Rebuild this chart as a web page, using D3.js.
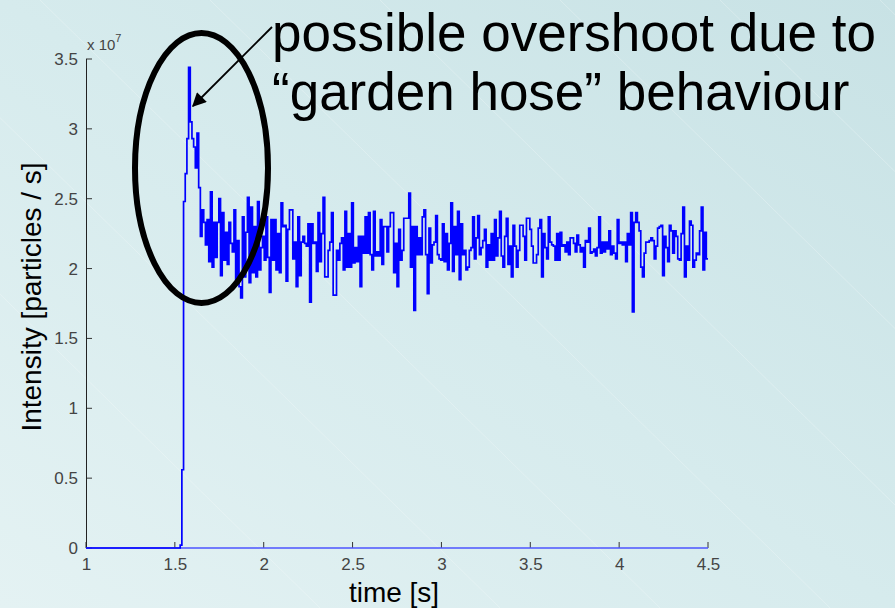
<!DOCTYPE html>
<html>
<head>
<meta charset="utf-8">
<script src="https://cdn.jsdelivr.net/npm/d3@7"></script>
<style>
  html, body { margin: 0; padding: 0; background: #d8ecee; }
  svg { display: block; }
</style>
</head>
<body>
<svg id="chart" width="895" height="608"></svg>
<script>
// ---- data (intensity in units of 1e7 particles/s) ----
const startTime = 1.0;          // signal is zero from here
const onsetTime = 1.53;         // first sample of the beam
const endTime = 4.5;            // last sample
const xTicks = [1, 1.5, 2, 2.5, 3, 3.5, 4, 4.5];
const yTicks = [0, 0.5, 1, 1.5, 2, 2.5, 3, 3.5];
const intensity = [
  0.02, 0.56, 2.48, 2.68, 2.93, 3.44, 3.05, 2.93, 2.87, 2.72, 2.97, 2.58, 2.23, 2.42, 2.33, 2.17, 2.35, 2.05, 2.55, 2.01,
  2.33, 2.08, 2.33, 2.50, 1.95, 2.40, 2.06, 2.26, 2.03, 2.33, 2.18, 2.12, 2.42, 1.92, 2.20, 1.87, 1.79, 2.37, 1.94, 2.26,
  2.51, 1.90, 2.44, 1.97, 2.30, 1.94, 2.48, 1.99, 2.15, 2.23, 2.06, 2.37, 2.08, 1.83, 2.35, 2.06, 2.35, 1.99, 2.25,
  1.97, 2.47, 2.30, 2.31, 1.91, 2.28, 2.42, 2.42, 2.07, 2.19, 1.87, 2.37, 1.95, 2.19, 2.23, 2.18, 2.16, 2.32, 1.76, 2.32,
  2.18, 2.19, 1.98, 2.40, 2.05, 2.25, 2.51, 1.94, 1.94, 2.13, 2.19, 2.40, 1.81, 1.81, 2.13, 2.06, 2.18, 2.22, 1.99, 2.41,
  2.01, 2.25, 2.01, 2.47, 2.04, 2.15, 2.05, 2.23, 1.87, 2.23, 2.11, 2.37, 2.11, 2.40, 2.10, 1.99, 2.41, 2.09, 2.12, 2.09,
  2.35, 2.03, 2.30, 2.30, 2.12, 2.30, 2.40, 2.40, 1.97, 2.18, 1.87, 2.28, 2.06, 2.13, 2.36, 2.36, 2.36, 2.54, 2.01, 2.30,
  1.70, 2.30, 2.10, 2.22, 2.10, 2.37, 2.42, 2.10, 1.82, 2.29, 2.04, 2.17, 2.19, 2.38, 2.10, 2.07, 2.06, 2.32, 2.05, 2.25,
  1.99, 2.18, 2.47, 1.98, 2.30, 2.10, 2.41, 1.92, 2.32, 2.10, 2.13, 1.99, 2.01, 2.13, 2.15, 2.37, 2.07, 2.22, 2.38, 2.10,
  2.15,
  2.20, 2.28, 2.01, 2.17, 2.06, 2.25, 2.06, 2.35, 2.09, 2.22, 2.41, 2.09, 2.01, 2.23, 2.36, 2.03, 2.16, 1.94, 2.31, 2.16,
  2.01, 2.13, 2.31, 2.31, 2.23, 2.06, 2.36, 2.36, 2.28, 2.16, 2.04, 2.04, 2.10, 2.29, 2.35, 1.94, 2.25, 2.15, 2.07, 2.37,
  2.19, 2.17, 2.16, 2.06, 2.25, 2.06, 2.26, 2.16, 2.17, 2.12, 2.19, 2.10, 2.22, 2.22, 2.18, 2.12, 2.24, 2.17, 2.12, 2.15,
  2.01, 2.20, 2.19, 2.29, 2.11,
  2.12, 2.14, 2.09, 2.15, 2.37, 2.11, 2.19, 2.12, 2.19, 2.14, 2.27, 2.10, 2.16, 2.11, 2.07, 2.35, 2.18, 2.19, 2.17, 2.19,
  2.05, 2.25, 2.17, 2.40, 1.69, 2.33, 2.40, 2.33, 2.27, 2.01, 1.94, 2.11, 2.19, 2.19, 2.20, 2.22, 2.20, 2.07, 2.16, 2.29,
  2.30, 2.31, 1.95, 2.23, 2.15, 2.05, 2.31, 2.27, 2.11, 2.27, 2.23, 2.07, 2.06, 2.25, 2.44, 1.94, 2.16, 2.06, 2.34, 2.31,
  2.01, 2.06, 2.11, 2.10, 2.27, 2.44, 1.99, 2.26, 2.07
];
const yLabel = "Intensity [particles / s]";
const xLabel = "time [s]";
const exponentLabel = "x 10";
const exponentPower = "7";
const noteLines = ["possible overshoot due to", "\u201Cgarden hose\u201D behaviour"];

// ---- drawing ----
const svg = d3.select("#chart");
const W = 895, H = 608;

// background gradient
const defs = svg.append("defs");
const grad = defs.append("linearGradient").attr("id", "bg")
  .attr("x1", "0").attr("y1", "1").attr("x2", "1").attr("y2", "0");
grad.append("stop").attr("offset", "0").attr("stop-color", "#e4f2f3");
grad.append("stop").attr("offset", "0.5").attr("stop-color", "#d6ebed");
grad.append("stop").attr("offset", "1").attr("stop-color", "#c8e2e5");
svg.append("rect").attr("width", W).attr("height", H).attr("fill", "url(#bg)");

// faint diagonal streaks
const streaks = [-300, -120, 40, 210, 380, 560, 720, 880];
svg.append("g").selectAll("line").data(streaks).join("line")
  .attr("x1", d => d).attr("y1", 0)
  .attr("x2", d => d + 620).attr("y2", 608)
  .attr("stroke", "#ffffff").attr("stroke-opacity", 0.25).attr("stroke-width", 1);

const x = d3.scaleLinear().domain([1, 4.5]).range([86, 708]);
const y = d3.scaleLinear().domain([0, 3.5]).range([548, 59]);

// build step series
const n = intensity.length;
const tIndex = d3.scaleLinear().domain([0, n]).range([onsetTime, endTime]);
const pts = [[startTime, 0]];
intensity.forEach((v, i) => pts.push([tIndex(i), v]));
pts.push([endTime, intensity[n - 1]]);

// axes
const fontTick = "'Liberation Sans', Arial, sans-serif";
const tickColor = "#444";
const xAxis = d3.axisBottom(x).tickValues(xTicks).tickSize(0).tickPadding(10)
  .tickFormat(d3.format("~g"));
const gx = svg.append("g").attr("transform", "translate(0,548)").call(xAxis);
gx.select(".domain").remove();
gx.selectAll("text").attr("font-family", fontTick).attr("font-size", 17).attr("fill", tickColor);
svg.append("g").selectAll("line").data(xTicks).join("line")
  .attr("x1", d => x(d)).attr("x2", d => x(d))
  .attr("y1", 548).attr("y2", 542)
  .attr("stroke", "#333").attr("stroke-width", 1);

const yAxis = d3.axisLeft(y).tickValues(yTicks).tickSize(0).tickPadding(8)
  .tickFormat(d3.format("~g"));
const gy = svg.append("g").attr("transform", "translate(86,0)").call(yAxis);
gy.select(".domain").remove();
gy.selectAll("text").attr("font-family", fontTick).attr("font-size", 17).attr("fill", tickColor);
svg.append("g").selectAll("line").data(yTicks).join("line")
  .attr("x1", 86).attr("x2", 92)
  .attr("y1", d => y(d)).attr("y2", d => y(d))
  .attr("stroke", "#333").attr("stroke-width", 1);
svg.append("line").attr("x1", 86.5).attr("x2", 86.5).attr("y1", y(3.5)).attr("y2", y(0))
  .attr("stroke", "#222").attr("stroke-width", 1);

// exponent label
const ex = svg.append("text").attr("x", 87).attr("y", 50)
  .attr("font-family", fontTick).attr("font-size", 15).attr("fill", tickColor);
ex.append("tspan").text(exponentLabel);
ex.append("tspan").attr("dy", -8).attr("font-size", 11).text(exponentPower);

// data line
svg.append("line").attr("x1", x(1)).attr("x2", x(4.5)).attr("y1", y(0)).attr("y2", y(0))
  .attr("stroke", "#4d55ff").attr("stroke-width", 1.5);
const line = d3.line().x(d => x(d[0])).y(d => y(d[1])).curve(d3.curveStepAfter);
svg.append("path").datum(pts).attr("d", line)
  .attr("fill", "none").attr("stroke", "#0000ff").attr("stroke-width", 1.7);

// axis labels
const fontLab = "'Liberation Sans', Arial, sans-serif";
svg.append("text").attr("transform", "translate(41,297) rotate(-90)")
  .attr("text-anchor", "middle").attr("font-family", fontLab).attr("font-size", 28)
  .attr("fill", "#000").text(yLabel);
svg.append("text").attr("x", 394).attr("y", 602)
  .attr("text-anchor", "middle").attr("font-family", fontLab).attr("font-size", 28)
  .attr("fill", "#000").text(xLabel);

// annotation
svg.append("ellipse").attr("cx", 201.5).attr("cy", 168).attr("rx", 66.5).attr("ry", 135)
  .attr("fill", "none").attr("stroke", "#000").attr("stroke-width", 6);
defs.append("marker").attr("id", "arrow").attr("viewBox", "0 0 10 10")
  .attr("refX", 9).attr("refY", 5).attr("markerWidth", 18).attr("markerHeight", 14)
  .attr("markerUnits", "userSpaceOnUse").attr("orient", "auto")
  .append("path").attr("d", "M0,0 L10,5 L0,10 z").attr("fill", "#000");
svg.append("line").attr("x1", 272).attr("y1", 27).attr("x2", 193).attr("y2", 106)
  .attr("stroke", "#000").attr("stroke-width", 1.8).attr("marker-end", "url(#arrow)");

svg.append("g").selectAll("text").data(noteLines).join("text")
  .attr("x", 272).attr("y", (d, i) => 51 + i * 59)
  .attr("font-family", fontLab).attr("font-size", 53).attr("fill", "#000")
  .text(d => d);
</script>
</body>
</html>
